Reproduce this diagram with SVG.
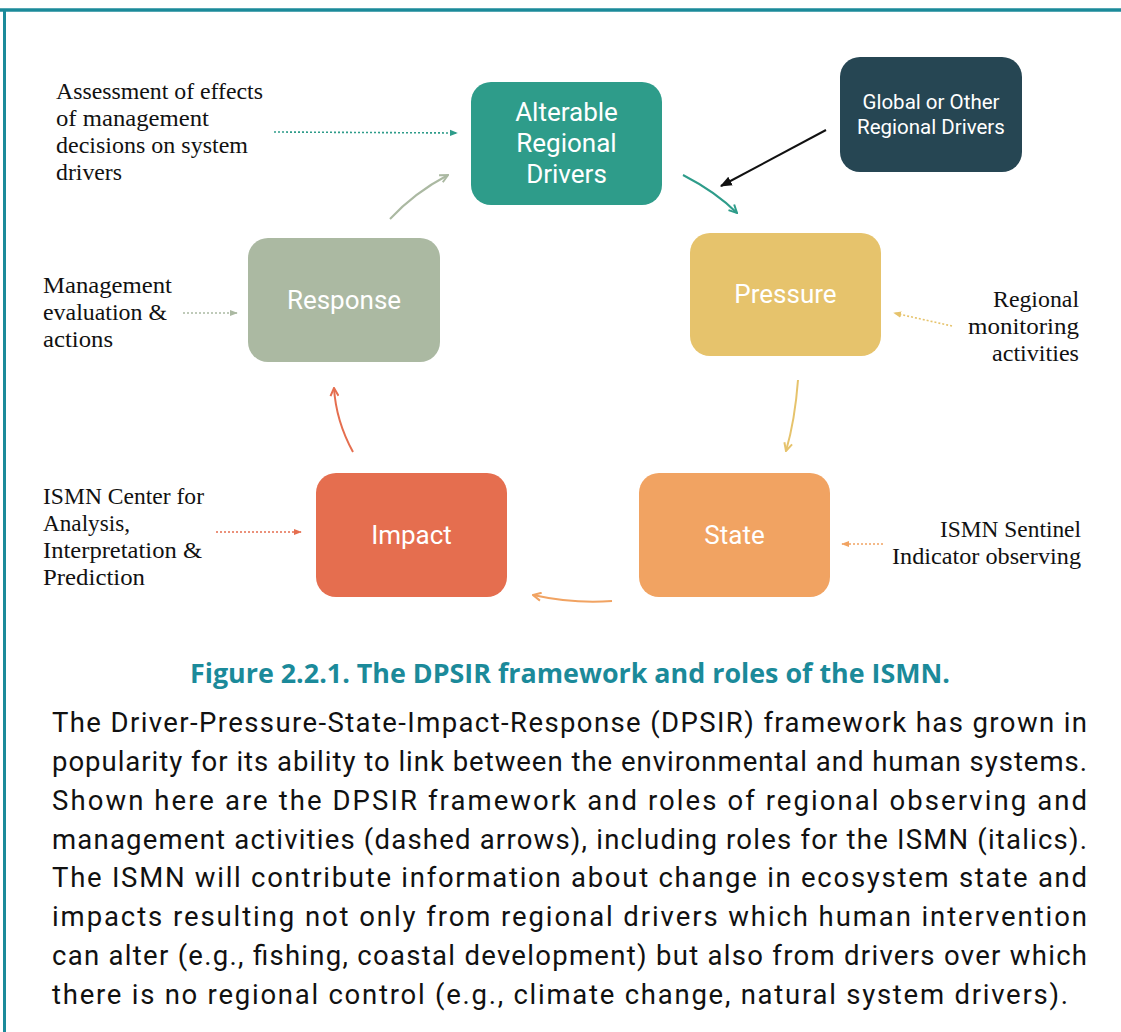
<svg xmlns="http://www.w3.org/2000/svg" width="1121" height="1032" viewBox="0 0 1121 1032">
<style>
.node text{font-family:Roboto,"Liberation Sans",sans-serif;fill:#fff;text-anchor:middle;font-size:26px}
.note{font-family:"Liberation Serif","DejaVu Serif",serif;font-size:22.5px;fill:#111}
.body{font-family:Roboto,"Liberation Sans",sans-serif;font-size:27.5px;fill:#111}
.cap{font-family:"Open Sans","Liberation Sans",sans-serif;font-weight:bold;font-size:26px;fill:#1b8a9a}
.c{fill:none;stroke-width:2}
.d{fill:none;stroke-width:1.6;stroke-dasharray:2 2}
</style>
<defs>
<marker id="mTeal" viewBox="0 0 10 10" refX="9" refY="5" markerWidth="10" markerHeight="10" markerUnits="userSpaceOnUse" orient="auto"><path d="M1,1 L9,5 L1,9" fill="none" stroke="#2e9c8a" stroke-width="2"/></marker>
<marker id="mGreen" viewBox="0 0 10 10" refX="9" refY="5" markerWidth="10" markerHeight="10" markerUnits="userSpaceOnUse" orient="auto"><path d="M1,1 L9,5 L1,9" fill="none" stroke="#abb9a2" stroke-width="2"/></marker>
<marker id="mYellow" viewBox="0 0 10 10" refX="9" refY="5" markerWidth="10" markerHeight="10" markerUnits="userSpaceOnUse" orient="auto"><path d="M1,1 L9,5 L1,9" fill="none" stroke="#e6c36c" stroke-width="2"/></marker>
<marker id="mOrange" viewBox="0 0 10 10" refX="9" refY="5" markerWidth="10" markerHeight="10" markerUnits="userSpaceOnUse" orient="auto"><path d="M1,1 L9,5 L1,9" fill="none" stroke="#f1a362" stroke-width="2"/></marker>
<marker id="mRed" viewBox="0 0 10 10" refX="9" refY="5" markerWidth="10" markerHeight="10" markerUnits="userSpaceOnUse" orient="auto"><path d="M1,1 L9,5 L1,9" fill="none" stroke="#e56e4f" stroke-width="2"/></marker>
<marker id="mBlack" viewBox="0 0 10 10" refX="9" refY="5" markerWidth="12" markerHeight="12" markerUnits="userSpaceOnUse" orient="auto"><path d="M0,1 L10,5 L0,9 Z" fill="#111"/></marker>
<marker id="dTeal" viewBox="0 0 10 10" refX="9" refY="5" markerWidth="8" markerHeight="8" markerUnits="userSpaceOnUse" orient="auto"><path d="M0,1 L10,5 L0,9 Z" fill="#2e9c8a"/></marker>
<marker id="dGreen" viewBox="0 0 10 10" refX="9" refY="5" markerWidth="8" markerHeight="8" markerUnits="userSpaceOnUse" orient="auto"><path d="M0,1 L10,5 L0,9 Z" fill="#abb9a2"/></marker>
<marker id="dYellow" viewBox="0 0 10 10" refX="9" refY="5" markerWidth="8" markerHeight="8" markerUnits="userSpaceOnUse" orient="auto"><path d="M0,1 L10,5 L0,9 Z" fill="#e6c36c"/></marker>
<marker id="dOrange" viewBox="0 0 10 10" refX="9" refY="5" markerWidth="8" markerHeight="8" markerUnits="userSpaceOnUse" orient="auto"><path d="M0,1 L10,5 L0,9 Z" fill="#f1a362"/></marker>
<marker id="dRed" viewBox="0 0 10 10" refX="9" refY="5" markerWidth="8" markerHeight="8" markerUnits="userSpaceOnUse" orient="auto"><path d="M0,1 L10,5 L0,9 Z" fill="#e56e4f"/></marker>
</defs>
<rect width="1121" height="1032" fill="#fff"/>
<line x1="0" y1="10" x2="1121" y2="10" stroke="#1b8a9a" stroke-width="3.5"/>
<line x1="4.5" y1="9" x2="4.5" y2="1032" stroke="#1b8a9a" stroke-width="3"/>

<g id="node-alterable" class="node"><rect x="471" y="82" width="191" height="123" rx="20" fill="#2e9c8a"/><text x="566.5" y="121">Alterable</text><text x="566.5" y="152">Regional</text><text x="566.5" y="183">Drivers</text></g>
<g id="node-global" class="node"><rect x="840" y="57" width="182" height="115" rx="20" fill="#264653"/><text x="931" y="109" style="font-size:20.5px">Global or Other</text><text x="931" y="134" style="font-size:20.5px">Regional Drivers</text></g>
<g id="node-pressure" class="node"><rect x="690" y="233" width="191" height="123" rx="20" fill="#e6c36c"/><text x="785.5" y="303">Pressure</text></g>
<g id="node-response" class="node"><rect x="248" y="238" width="192" height="124" rx="20" fill="#abb9a2"/><text x="344" y="309">Response</text></g>
<g id="node-impact" class="node"><rect x="316" y="473" width="191" height="124" rx="20" fill="#e56e4f"/><text x="411.5" y="544">Impact</text></g>
<g id="node-state" class="node"><rect x="639" y="473" width="191" height="124" rx="20" fill="#f1a362"/><text x="734.5" y="544">State</text></g>

<g id="connectors">
<path class="c" d="M390,219 Q414,193 448,175" stroke="#abb9a2" marker-end="url(#mGreen)"/>
<path class="c" d="M683,175 Q716,192 737,213" stroke="#2e9c8a" marker-end="url(#mTeal)"/>
<path class="c" d="M826,130 L721,186" stroke="#111" stroke-width="1.8" marker-end="url(#mBlack)"/>
<path class="c" d="M798,380 Q795,420 786,451" stroke="#e6c36c" marker-end="url(#mYellow)"/>
<path class="c" d="M612,601 Q574,604 533,595" stroke="#f1a362" marker-end="url(#mOrange)"/>
<path class="c" d="M353,452 Q336,421 334,388" stroke="#e56e4f" marker-end="url(#mRed)"/>
<path class="d" d="M274,132 L457,133" stroke="#2e9c8a" marker-end="url(#dTeal)"/>
<path class="d" d="M183,313 L237,313" stroke="#abb9a2" marker-end="url(#dGreen)"/>
<path class="d" d="M952,326 L894,313" stroke="#e6c36c" marker-end="url(#dYellow)"/>
<path class="d" d="M216,532 L301,532" stroke="#e56e4f" marker-end="url(#dRed)"/>
<path class="d" d="M883,544 L842,544" stroke="#f1a362" marker-end="url(#dOrange)"/>
</g>

<g id="notes">
<text class="note" x="56" y="99" textLength="207" lengthAdjust="spacingAndGlyphs">Assessment of effects</text>
<text class="note" x="56" y="126" textLength="153" lengthAdjust="spacingAndGlyphs">of management</text>
<text class="note" x="56" y="153" textLength="192" lengthAdjust="spacingAndGlyphs">decisions on system</text>
<text class="note" x="56" y="180" textLength="66" lengthAdjust="spacingAndGlyphs">drivers</text>

<text class="note" x="43" y="293" textLength="129" lengthAdjust="spacingAndGlyphs">Management</text>
<text class="note" x="43" y="320" textLength="124" lengthAdjust="spacingAndGlyphs">evaluation &amp;</text>
<text class="note" x="43" y="347" textLength="70" lengthAdjust="spacingAndGlyphs">actions</text>

<text class="note" x="993" y="307" textLength="86" lengthAdjust="spacingAndGlyphs">Regional</text>
<text class="note" x="968" y="334" textLength="111" lengthAdjust="spacingAndGlyphs">monitoring</text>
<text class="note" x="992" y="361" textLength="87" lengthAdjust="spacingAndGlyphs">activities</text>

<text class="note" x="43" y="504" textLength="161" lengthAdjust="spacingAndGlyphs">ISMN Center for</text>
<text class="note" x="43" y="531" textLength="87" lengthAdjust="spacingAndGlyphs">Analysis,</text>
<text class="note" x="43" y="558" textLength="159" lengthAdjust="spacingAndGlyphs">Interpretation &amp;</text>
<text class="note" x="43" y="585" textLength="102" lengthAdjust="spacingAndGlyphs">Prediction</text>

<text class="note" x="940" y="537" textLength="141" lengthAdjust="spacingAndGlyphs">ISMN Sentinel</text>
<text class="note" x="892" y="564" textLength="189" lengthAdjust="spacingAndGlyphs">Indicator observing</text>
</g>

<text class="cap" x="190" y="683" textLength="760" lengthAdjust="spacingAndGlyphs">Figure 2.2.1. The DPSIR framework and roles of the ISMN.</text>

<g id="caption-body">
<text class="body" x="52" y="732" textLength="1035" lengthAdjust="spacing">The Driver-Pressure-State-Impact-Response (DPSIR) framework has grown in</text>
<text class="body" x="52" y="771" textLength="1035" lengthAdjust="spacing">popularity for its ability to link between the environmental and human systems.</text>
<text class="body" x="52" y="810" textLength="1035" lengthAdjust="spacing">Shown here are the DPSIR framework and roles of regional observing and</text>
<text class="body" x="52" y="849" textLength="1035" lengthAdjust="spacing">management activities (dashed arrows), including roles for the ISMN (italics).</text>
<text class="body" x="52" y="887" textLength="1035" lengthAdjust="spacing">The ISMN will contribute information about change in ecosystem state and</text>
<text class="body" x="52" y="926" textLength="1035" lengthAdjust="spacing">impacts resulting not only from regional drivers which human intervention</text>
<text class="body" x="52" y="965" textLength="1035" lengthAdjust="spacing">can alter (e.g., fishing, coastal development) but also from drivers over which</text>
<text class="body" x="52" y="1004" textLength="1016" lengthAdjust="spacing">there is no regional control (e.g., climate change, natural system drivers).</text>
</g>
</svg>
